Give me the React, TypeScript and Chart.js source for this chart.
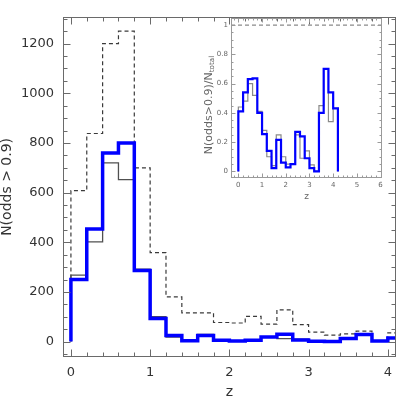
import React, { useEffect, useRef } from "react";
import { Chart, registerables } from "chart.js";

Chart.register(...registerables);

// ---- data ----
const binEdges = [0, 0.2, 0.4, 0.6, 0.8, 1.0, 1.2, 1.4, 1.6, 1.8, 2.0, 2.2, 2.4, 2.6, 2.8, 3.0, 3.2, 3.4, 3.6, 3.8, 4.0, 4.2];

// main panel: counts per z bin
const nTotal = [608, 838, 1200, 1250, 700, 358, 180, 116, 116, 77, 75, 102, 70, 128, 68, 38, 26, 31, 42, 4, 35];
const nGoodGray = [268, 402, 720, 652, 292, 100, 18, 5, 29, 8, 4, 5, 18, 12, 10, 2, 0, 14, 29, 1, 15];
const nGoodBlue = [250, 453, 760, 800, 286, 93, 25, 3, 25, 5, 2, 5, 19, 30, 6, 1, 0, 12, 29, 2, 15];

// inset: fraction N(odds>0.9)/N_total
const fracGray = [0.44, 0.48, 0.60, 0.52, 0.41, 0.28, 0.10, 0.04, 0.25, 0.10, 0.05, 0.05, 0.25, 0.09, 0.14, 0.045, 0.0, 0.45, 0.70, 0.34, 0.43];
const fracBlue = [0.41, 0.54, 0.63, 0.636, 0.40, 0.255, 0.14, 0.023, 0.216, 0.06, 0.027, 0.05, 0.27, 0.24, 0.09, 0.023, 0.0, 0.40, 0.70, 0.54, 0.43];
const fracAllLevel = 1;

// axes
const mainXTicks = [0, 1, 2, 3, 4];
const mainXLabels = ["0", "1", "2", "3", "4"];
const mainYTicks = [0, 200, 400, 600, 800, 1000, 1200];
const mainYLabels = ["0", "200", "400", "600", "800", "1000", "1200"];
const insetXTicks = [0, 1, 2, 3, 4, 5, 6];
const insetXLabels = ["0", "1", "2", "3", "4", "5", "6"];
const insetYTicks = [0, 0.2, 0.4, 0.6, 0.8, 1];
const insetYLabels = ["0", "0.2", "0.4", "0.6", "0.8", "1"];

const MAIN_X = { min: -0.1, max: 4.1 };
const MAIN_Y = { min: -62, max: 1308 };
const INSET_X = { min: -0.31, max: 6.06 };
const INSET_Y = { min: -0.045, max: 1.048 };

function range(a: number, b: number, step: number) {
  const out: number[] = [];
  const n = Math.round((b - a) / step);
  for (let i = 0; i <= n; i++) out.push(+(a + i * step).toFixed(6));
  return out;
}

function stepPoints(edges: number[], values: number[]) {
  const pts: { x: number; y: number }[] = [{ x: edges[0], y: 0 }];
  values.forEach((v, i) => {
    pts.push({ x: edges[i], y: v });
    pts.push({ x: edges[i + 1], y: v });
  });
  pts.push({ x: edges[edges.length - 1], y: 0 });
  return pts;
}

type FrameCfg = {
  color: string; width: number; major: number; minor: number;
  xMajor: number[]; xMinor: number[]; yMajor: number[]; yMinor: number[];
};

// box frame with inward ticks on all four sides
function makeFramePlugin(cfg: FrameCfg) {
  return {
    id: "frameTicks",
    afterDraw(chart: any) {
      const ctx = chart.ctx;
      const a = chart.chartArea;
      const xs = chart.scales.x;
      const ys = chart.scales.y;
      ctx.save();
      ctx.setLineDash([]);
      ctx.strokeStyle = cfg.color;
      ctx.lineWidth = cfg.width;
      const L = Math.round(a.left) + 0.5, R = Math.round(a.right) - 0.5;
      const T = Math.round(a.top) + 0.5, B = Math.round(a.bottom) - 0.5;
      ctx.strokeRect(L, T, R - L, B - T);
      ctx.beginPath();
      const xl = (list: number[], len: number) => {
        for (const v of list) {
          if (v < xs.min || v > xs.max) continue;
          const px = Math.round(xs.getPixelForValue(v)) + 0.5;
          ctx.moveTo(px, B); ctx.lineTo(px, B - len);
          ctx.moveTo(px, T); ctx.lineTo(px, T + len);
        }
      };
      const yl = (list: number[], len: number) => {
        for (const v of list) {
          if (v < ys.min || v > ys.max) continue;
          const py = Math.round(ys.getPixelForValue(v)) + 0.5;
          ctx.moveTo(L, py); ctx.lineTo(L + len, py);
          ctx.moveTo(R, py); ctx.lineTo(R - len, py);
        }
      };
      xl(cfg.xMajor, cfg.major);
      xl(cfg.xMinor, cfg.minor);
      yl(cfg.yMajor, cfg.major);
      yl(cfg.yMinor, cfg.minor);
      ctx.stroke();
      ctx.restore();
    },
  };
}

// rotated inset y title with a subscript
function makeInsetTitlePlugin(cfg: { main: string; sub: string; size: number; x: number; dy: number; color: string }) {
  return {
    id: "insetTitle",
    afterDraw(chart: any) {
      const ctx = chart.ctx;
      const a = chart.chartArea;
      ctx.save();
      ctx.translate(cfg.x, (a.top + a.bottom) / 2 + cfg.dy);
      ctx.rotate(-Math.PI / 2);
      ctx.fillStyle = cfg.color;
      ctx.textBaseline = "middle";
      ctx.textAlign = "left";
      const f1 = cfg.size + "px 'DejaVu Sans'";
      const f2 = (cfg.size * 0.65).toFixed(1) + "px 'DejaVu Sans'";
      ctx.font = f1;
      const w1 = ctx.measureText(cfg.main).width;
      ctx.font = f2;
      const w2 = ctx.measureText(cfg.sub).width;
      const start = -(w1 + w2) / 2;
      ctx.font = f1;
      ctx.fillText(cfg.main, start, 0);
      ctx.font = f2;
      ctx.fillText(cfg.sub, start + w1, cfg.size * 0.3);
      ctx.restore();
    },
  };
}

function lineDs(data: any[], color: string, width: number, order: number, dash?: number[]) {
  return {
    data,
    borderColor: color,
    borderWidth: width,
    borderDash: dash || [],
    pointRadius: 0,
    fill: false,
    tension: 0,
    clip: 0,
    borderJoinStyle: "miter",
    order,
  };
}

function MainChart() {
  const ref = useRef<HTMLCanvasElement>(null);
  useEffect(() => {
    const chart = new Chart(ref.current!, {
      type: "line",
      data: {
        datasets: [
          lineDs(stepPoints(binEdges, nGoodBlue), "#0000ff", 3.5, 0),
          lineDs(stepPoints(binEdges, nGoodGray), "#505050", 1.3, 1),
          lineDs(stepPoints(binEdges, nTotal), "#3a3a3a", 1.2, 2, [4, 3]),
        ],
      },
      options: {
        animation: false,
        responsive: false,
        events: [],
        parsing: false,
        layout: { padding: { top: 1, right: 2, left: 0, bottom: 0 } },
        plugins: { legend: { display: false }, tooltip: { enabled: false } },
        scales: {
          x: {
            type: "linear",
            min: MAIN_X.min,
            max: MAIN_X.max,
            grid: { display: false, drawTicks: false },
            border: { display: false },
            afterFit: (s: any) => { s.height = 40; },
            afterBuildTicks: (s: any) => { s.ticks = mainXTicks.map((v) => ({ value: v })); },
            ticks: {
              autoSkip: false,
              maxRotation: 0,
              padding: 8,
              color: "#333",
              font: { family: "'DejaVu Sans'", size: 13 },
              callback: (v: any) => mainXLabels[mainXTicks.indexOf(Number(v))] ?? "",
            },
            title: {
              display: true,
              text: "z",
              color: "#333",
              font: { family: "'DejaVu Sans'", size: 14, lineHeight: 1 },
              padding: { top: 0, bottom: -2 },
            },
          },
          y: {
            type: "linear",
            min: MAIN_Y.min,
            max: MAIN_Y.max,
            grid: { display: false, drawTicks: false },
            border: { display: false },
            afterFit: (s: any) => { s.width = 63; },
            afterBuildTicks: (s: any) => { s.ticks = mainYTicks.map((v) => ({ value: v })); },
            ticks: {
              autoSkip: false,
              padding: 9,
              color: "#333",
              font: { family: "'DejaVu Sans'", size: 13 },
              callback: (v: any) => mainYLabels[mainYTicks.indexOf(Number(v))] ?? "",
            },
            title: {
              display: true,
              text: "N(odds > 0.9)",
              color: "#333",
              font: { family: "'DejaVu Sans'", size: 14, lineHeight: 1 },
              padding: 0,
            },
          },
        },
      },
      plugins: [
        makeFramePlugin({
          color: "#6a6a6a", width: 1, major: 7, minor: 4,
          xMajor: mainXTicks, xMinor: range(0, 4.2, 0.2),
          yMajor: mainYTicks, yMinor: range(-50, 1300, 50),
        }),
      ],
    } as any);
    return () => chart.destroy();
  }, []);
  return <canvas ref={ref} width={400} height={397} style={{ position: "absolute", left: 0, top: 0 }} />;
}

function InsetChart() {
  const ref = useRef<HTMLCanvasElement>(null);
  useEffect(() => {
    const chart = new Chart(ref.current!, {
      type: "line",
      data: {
        datasets: [
          lineDs(stepPoints(binEdges, fracBlue), "#0000ff", 2.2, 0),
          lineDs(stepPoints(binEdges, fracGray), "#8a8a8a", 1.2, 1),
          lineDs([{ x: INSET_X.min, y: fracAllLevel }, { x: INSET_X.max, y: fracAllLevel }], "#8a8a8a", 1.2, 2, [4, 3]),
        ],
      },
      options: {
        animation: false,
        responsive: false,
        events: [],
        parsing: false,
        layout: { padding: { top: 18, right: 13, left: 0, bottom: 0 } },
        plugins: { legend: { display: false }, tooltip: { enabled: false } },
        scales: {
          x: {
            type: "linear",
            min: INSET_X.min,
            max: INSET_X.max,
            grid: { display: false, drawTicks: false },
            border: { display: false },
            afterFit: (s: any) => { s.height = 27; },
            afterBuildTicks: (s: any) => { s.ticks = insetXTicks.map((v) => ({ value: v })); },
            ticks: {
              autoSkip: false,
              maxRotation: 0,
              padding: 3,
              color: "#666",
              font: { family: "'DejaVu Sans'", size: 7 },
              callback: (v: any) => insetXLabels[insetXTicks.indexOf(Number(v))] ?? "",
            },
            title: {
              display: true,
              text: "z",
              color: "#666",
              font: { family: "'DejaVu Sans'", size: 9, lineHeight: 1 },
              padding: { top: 0, bottom: 4 },
            },
          },
          y: {
            type: "linear",
            min: INSET_Y.min,
            max: INSET_Y.max,
            grid: { display: false, drawTicks: false },
            border: { display: false },
            afterFit: (s: any) => { s.width = 41; },
            afterBuildTicks: (s: any) => { s.ticks = insetYTicks.map((v) => ({ value: v })); },
            ticks: {
              autoSkip: false,
              padding: 3,
              color: "#666",
              font: { family: "'DejaVu Sans'", size: 7 },
              callback: (v: any) => insetYLabels[insetYTicks.indexOf(Number(v))] ?? "",
            },
          },
        },
      },
      plugins: [
        makeFramePlugin({
          color: "#9a9a9a", width: 1, major: 4, minor: 2,
          xMajor: insetXTicks, xMinor: range(-0.2, 6, 0.2),
          yMajor: insetYTicks, yMinor: range(0, 1.05, 0.05),
        }),
        makeInsetTitlePlugin({ main: "N(odds>0.9)/N", sub: "total", size: 11, x: 19, dy: 7, color: "#666" }),
      ],
    } as any);
    return () => chart.destroy();
  }, []);
  return <canvas ref={ref} width={205} height={205} style={{ position: "absolute", left: 190, top: 0 }} />;
}

export default function App() {
  return (
    <div style={{ position: "absolute", left: 0, top: 0, width: 400, height: 397, background: "#fff", overflow: "hidden" }}>
      <MainChart />
      <InsetChart />
    </div>
  );
}
